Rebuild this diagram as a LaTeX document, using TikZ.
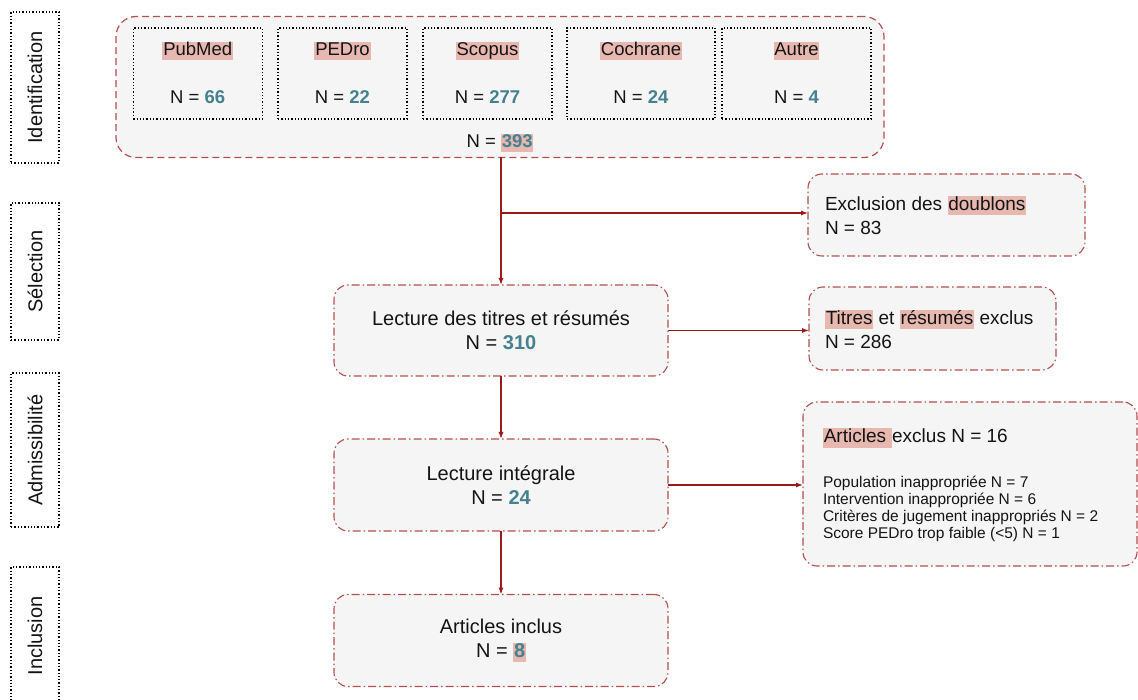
\documentclass[tikz,border=0pt]{standalone}
\usepackage{fontspec}
\setmainfont{Liberation Sans}
\usetikzlibrary{arrows.meta}
\definecolor{hlc}{HTML}{E6B8AF}
\definecolor{numc}{HTML}{45818E}
\definecolor{bordc}{HTML}{B05050}
\definecolor{arrc}{HTML}{9C1A1A}
\definecolor{boxfill}{HTML}{F5F5F5}
\definecolor{txt}{HTML}{141414}
\newcommand\hlt[1]{{\setlength\fboxsep{0.8pt}\colorbox{hlc}{\vphantom{Ag}#1}}}
\newcommand\nbr[1]{\textbf{\color{numc}#1}}
\newcommand\fs[2]{\fontsize{#1}{#2}\selectfont}
\begin{document}
\begin{tikzpicture}[x=1pt,y=-1pt,
  every node/.style={inner sep=0pt,outer sep=0pt,text=txt},
  sidebox/.style={draw=black,dotted,line width=1.3pt,minimum width=48pt},
  outerbox/.style={draw=bordc,fill=boxfill,line width=1.2pt,rounded corners=20pt,dash pattern=on 7pt off 4pt},
  dbbox/.style={draw=black,dotted,line width=1.3pt,minimum height=91pt},
  flowbox/.style={draw=bordc,fill=boxfill,line width=1.1pt,rounded corners=14pt,dash pattern=on 8pt off 3pt on 1.5pt off 3pt},
  conn/.style={draw=arrc,line width=1.1pt,-{Latex[length=7pt,width=5pt]}},
  plainconn/.style={draw=arrc,line width=1.1pt},
  lab/.style={font=\fs{20}{24}},
  dblab/.style={font=\fs{18.5}{22}},
]
\clip (0,0) rectangle (1138,700);
\fill[white] (0,0) rectangle (1138,700);

% side labels
\node[sidebox,minimum height=151pt] (sid) at (35,87.5) {};
\node[lab,rotate=90] (sidt) at (sid.center) {Identification};
\node[sidebox,minimum height=137pt] (ssel) at (35,271.5) {};
\node[lab,rotate=90] (sselt) at (ssel.center) {Sélection};
\node[sidebox,minimum height=154pt] (sadm) at (35,450) {};
\node[lab,rotate=90] (sadmt) at (sadm.center) {Admissibilité};
\node[sidebox,minimum height=138pt] (sinc) at (35,636) {};
\node[lab,rotate=90] (sinct) at (sinc.center) {Inclusion};

% identification
\node[outerbox,minimum width=768pt,minimum height=141pt] (outer) at (500,87) {};
\node[dbbox,minimum width=129pt] (pub) at (197.75,73.5) {};
\node[dbbox,minimum width=129pt] (ped) at (342.5,73.5) {};
\node[dbbox,minimum width=129pt] (sco) at (487.5,73.5) {};
\node[dbbox,minimum width=148pt] (coc) at (641,73.5) {};
\node[dbbox,minimum width=149pt] (aut) at (796.5,73.5) {};
\node[dblab] (pubt) at (197.75,51) {\hlt{PubMed}};
\node[dblab] (pubn) at (197.75,97) {N = \nbr{66}};
\node[dblab] (pedt) at (342.5,51) {\hlt{PEDro}};
\node[dblab] (pedn) at (342.5,97) {N = \nbr{22}};
\node[dblab] (scot) at (487.5,51) {\hlt{Scopus}};
\node[dblab] (scon) at (487.5,97) {N = \nbr{277}};
\node[dblab] (coct) at (641,51) {\hlt{Cochrane}};
\node[dblab] (cocn) at (641,97) {N = \nbr{24}};
\node[dblab] (autt) at (796.5,51) {\hlt{Autre}};
\node[dblab] (autn) at (796.5,97) {N = \nbr{4}};
\node[dblab] (tot) at (500,143) {N = \hlt{\nbr{393}}};

% flow boxes
\node[flowbox,minimum width=334pt,minimum height=91pt] (tit) at (501,330.5) {};
\node[lab,align=center] (titt) at (tit.center) {Lecture des titres et résumés\\N = \nbr{310}};
\node[flowbox,minimum width=334pt,minimum height=92pt] (integ) at (501,485) {};
\node[lab,align=center] (integt) at (integ.center) {Lecture intégrale\\N = \nbr{24}};
\node[flowbox,minimum width=334pt,minimum height=92pt] (incl) at (501,640.5) {};
\node[lab,align=center] (inclt) at (incl.center) {Articles inclus\\N = \hlt{\nbr{8}}};

% exclusion boxes
\node[flowbox,minimum width=277pt,minimum height=82pt] (excl) at (946.5,215) {};
\node[font=\fs{19}{24},align=left,anchor=west] (exclt) at (825,215) {Exclusion des \hlt{doublons}\\N = 83};
\node[flowbox,minimum width=247pt,minimum height=83pt] (texc) at (932.5,328.5) {};
\node[font=\fs{19}{24},align=left,anchor=west] (texct) at (825,329) {\hlt{Titres} et \hlt{résumés} exclus\\N = 286};
\node[flowbox,minimum width=334pt,minimum height=164pt] (aexc) at (970,484) {};
\node[font=\fs{19}{24},anchor=west] (aexch) at (823,438) {\hlt{Articles }exclus N = 16};
\node[font=\fs{15.5}{17.2},align=left,anchor=west] (aexcl) at (823,509) {Population inappropriée N = 7\\Intervention inappropriée N = 6\\Critères de jugement inappropriés N = 2\\Score PEDro trop faible (<5) N = 1};

% connectors
\coordinate (br) at (501,213);
\draw[plainconn] (tit.north |- outer.south) -- (br);
\draw[conn] (br) -- (tit.north);
\draw[conn] (br) -- (br -| excl.west);
\draw[conn] (tit.east) -- (tit.east -| texc.west);
\draw[conn] (tit.south) -- (integ.north);
\draw[conn] (integ.east) -- (integ.east -| aexc.west);
\draw[conn] (integ.south) -- (incl.north);
\end{tikzpicture}
\end{document}
